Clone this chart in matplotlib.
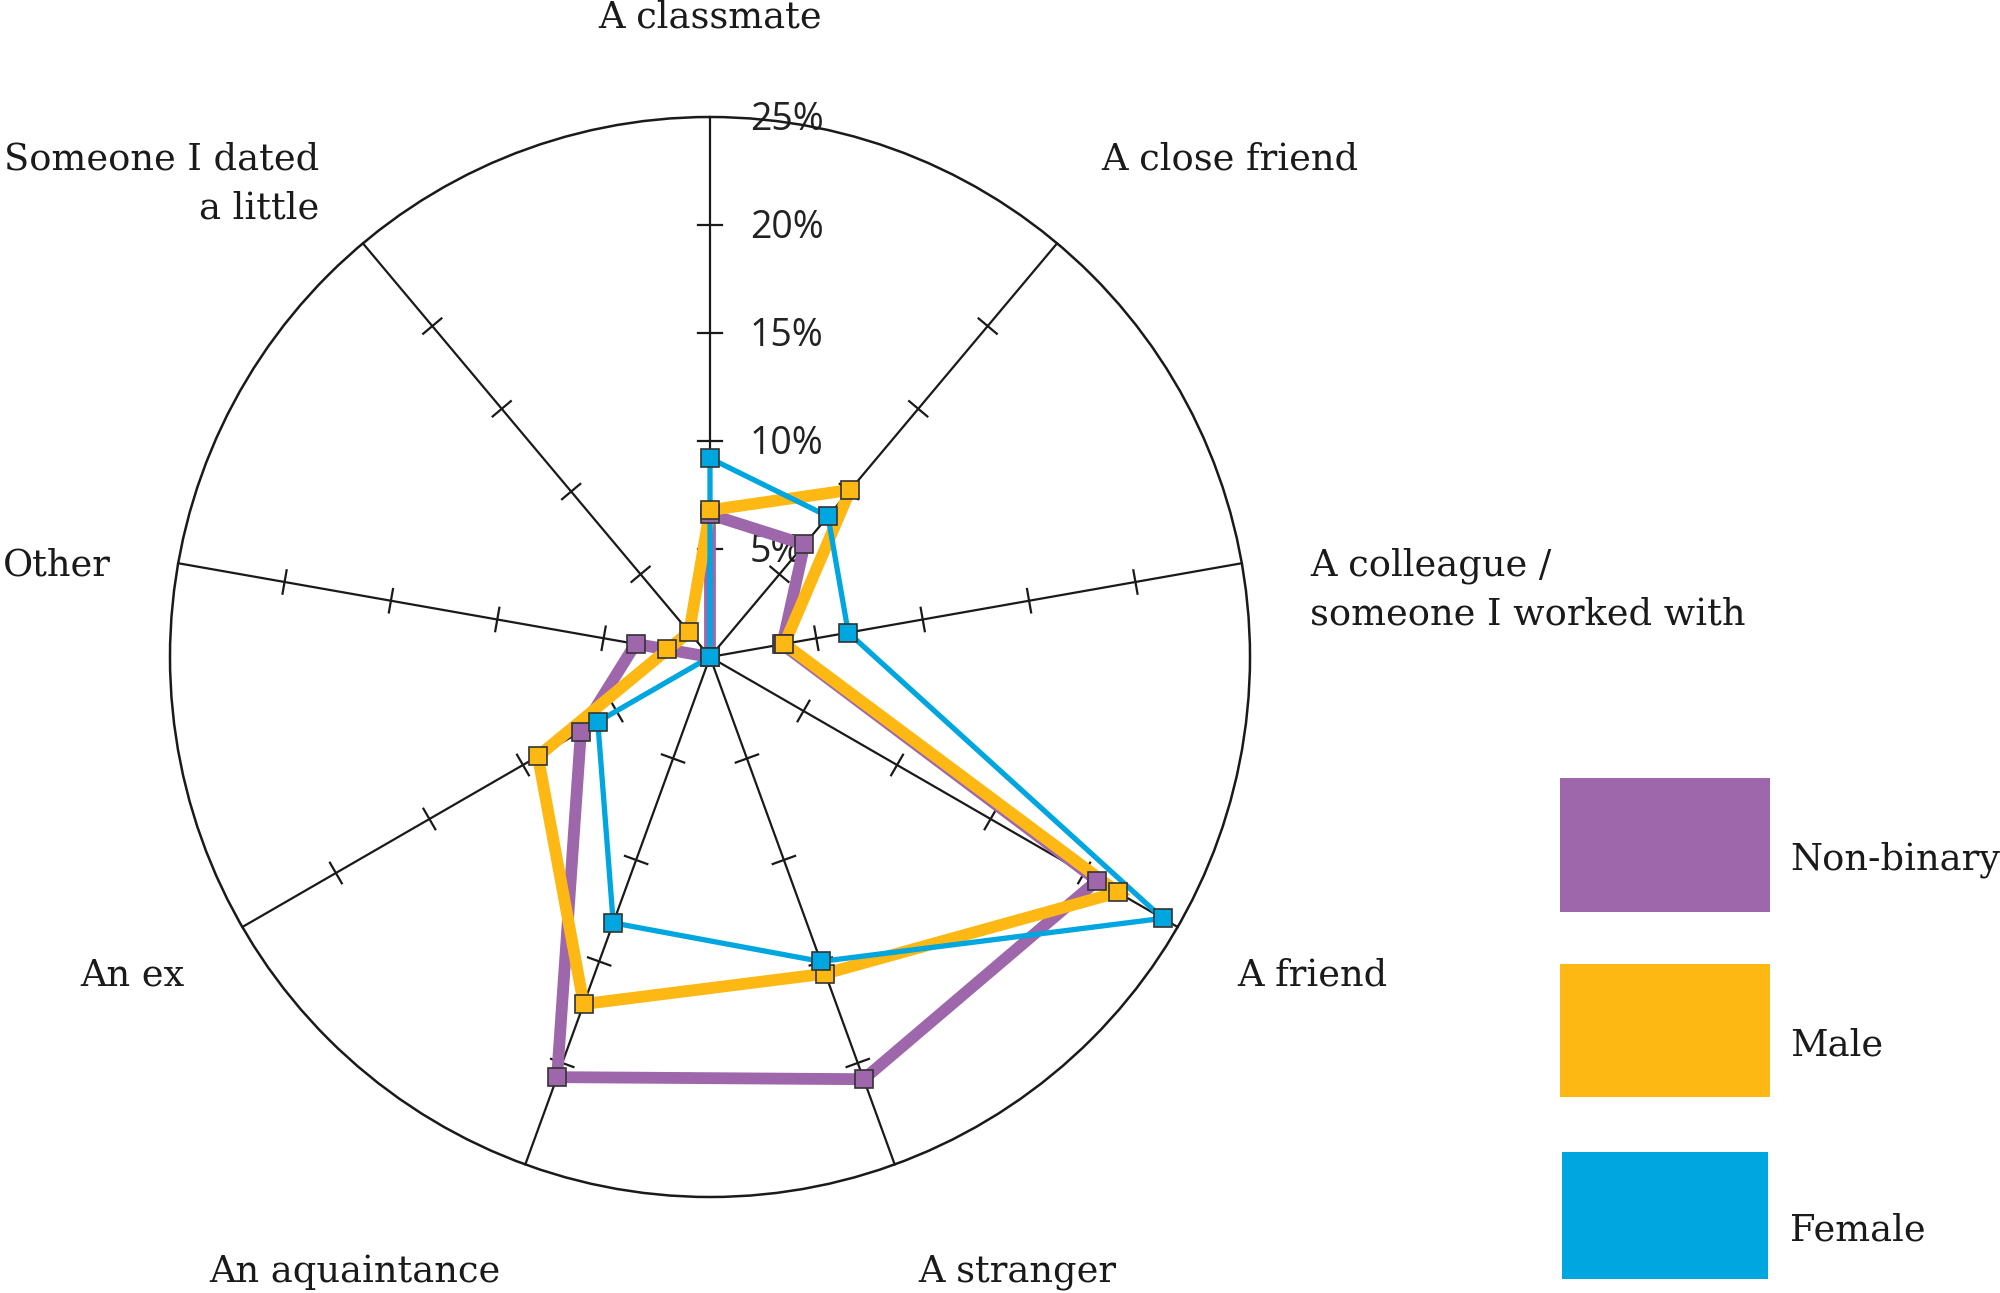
import numpy as np
import matplotlib.pyplot as plt
from matplotlib.patches import Rectangle, Circle

# categories clockwise from the top
categories = ['A classmate', 'A close friend', 'A colleague /\nsomeone I worked with',
              'A friend', 'A stranger', 'An aquaintance', 'An ex', 'Other',
              'Someone I dated\na little']
nonbinary = [6.6, 6.8, 3.4, 20.7, 20.8, 20.7, 6.9, 3.5, 0.0]
male = [6.8, 10.1, 3.5, 21.8, 15.6, 17.1, 9.2, 2.0, 1.5]
female = [9.2, 8.5, 6.5, 24.2, 15.0, 13.1, 6.0, 0.0, 0.0]
ticks = [5, 10, 15, 20, 25]
tick_labels = ['5%', '10%', '15%', '20%', '25%']
series_names = ['Non-binary', 'Male', 'Female']
colors = ['#9e66ab', '#fdb813', '#00a6df']

W, H = 2000, 1293
cx, cy = 710, 657        # centre in pixels
scale = 21.6             # pixels per percent

fig = plt.figure(figsize=(W / 100, H / 100), dpi=100)
ax = fig.add_axes([0, 0, 1, 1])
ax.set_xlim(-cx / scale, (W - cx) / scale)
ax.set_ylim(-(H - cy) / scale, cy / scale)
ax.axis('off')

def to_data(px, py):
    return (px - cx) / scale, (cy - py) / scale

n = len(categories)
ang = np.deg2rad(90 - 360 / n * np.arange(n))
rmax = ticks[-1]

# frame: outer circle, spokes and ticks
ax.add_patch(Circle((0, 0), rmax, fill=False, ec='#1a1a1a', lw=1.8, zorder=2))
for a in ang:
    ax.plot([0, rmax * np.cos(a)], [0, rmax * np.sin(a)], color='#1a1a1a', lw=1.6, zorder=2)
    px_, py_ = -np.sin(a), np.cos(a)
    for t in ticks[:-1]:
        x0, y0 = t * np.cos(a), t * np.sin(a)
        ax.plot([x0 - 0.55 * px_, x0 + 0.55 * px_], [y0 - 0.55 * py_, y0 + 0.55 * py_],
                color='#1a1a1a', lw=1.6, zorder=2)

for t, lab in zip(ticks, tick_labels):
    ax.text(1.85, t - 0.12, lab, ha='left', va='center', fontsize=27, color='#222222',
            family='Open Sans', zorder=1)

# series
widths = [8.5, 8.5, 3.8]
for vals, col, lw in zip([nonbinary, male, female], colors, widths):
    v = np.array(vals + vals[:1])
    a = np.append(ang, ang[0])
    ax.plot(v * np.cos(a), v * np.sin(a), color=col, lw=lw, zorder=3,
            solid_joinstyle='miter')
    ax.plot(v[:-1] * np.cos(ang), v[:-1] * np.sin(ang), ls='none', marker='s',
            ms=13.5, mfc=col, mec='#333333', mew=1.2, zorder=4)

# category labels
label_pos = [(710, 18, 'center'), (1101, 159, 'left'), (1310, 590, 'left'),
             (1237, 976, 'left'), (1017, 1272, 'center'), (355, 1272, 'center'),
             (185, 976, 'right'), (111, 565, 'right'), (319, 184, 'right')]
for lab, (px, py, ha) in zip(categories, label_pos):
    x, y = to_data(px, py)
    ax.text(x, y, lab, ha=ha, va='center', fontsize=26.5, color='#1a1a1a',
            family='DejaVu Serif', multialignment=ha, linespacing=1.45)

# legend
boxes = [(1560, 778, 210, 134), (1560, 964, 210, 133), (1562, 1152, 206, 127)]
for name, col, (bx, by, bw, bh) in zip(series_names, colors, boxes):
    fig.patches.append(Rectangle((bx / W, 1 - (by + bh) / H), bw / W, bh / H,
                                 transform=fig.transFigure, color=col, lw=0))
    fig.text(1790 / W, 1 - (by + bh / 2 + 15) / H, name, ha='left', va='center',
             fontsize=26.5, color='#1a1a1a', family='DejaVu Serif')

fig.savefig('out.png', dpi=100)
